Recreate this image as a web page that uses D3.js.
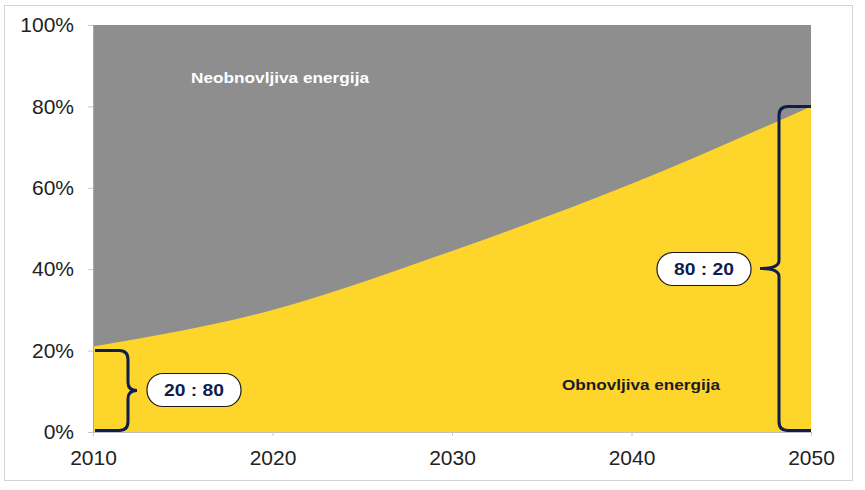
<!DOCTYPE html>
<html>
<head>
<meta charset="utf-8">
<script src="https://cdn.jsdelivr.net/npm/d3@7"></script>
<style>
  body { margin: 0; background: #fff; }
  svg { display: block; font-family: "Liberation Sans", Arial, sans-serif; }
</style>
</head>
<body>
<svg></svg>
<script>
// data
let years = [2010, 2020, 2030, 2040, 2050];
let renewable = [21, 30, 44.5, 61, 80]; // udio obnovljive energije, %
let yTicks = [0, 20, 40, 60, 80, 100];
let xTicks = [2010, 2020, 2030, 2040, 2050];
let ratioLabels = ["20 : 80", "80 : 20"];
let ratioShares = [20, 80]; // height of the braces, %
let areaLabels = ["Neobnovljiva energija", "Obnovljiva energija"];

let width = 865;
let height = 490;
let padLeft = 93, padRight = 811, padTop = 25, padBottom = 432;

let svg = d3.select("svg").attr("width", width).attr("height", height);

// outer frame
svg.append("rect")
  .attr("x", 4.5).attr("y", 5.5)
  .attr("width", 848).attr("height", 475)
  .attr("fill", "none")
  .attr("stroke", "#d4d4d4");

let xScale = d3.scaleLinear().domain([2010, 2050]).range([padLeft, padRight]);
let yScale = d3.scaleLinear().domain([0, 100]).range([padBottom, padTop]);

let points = years.map((y, i) => ({ year: y, value: renewable[i] }));

// gray = non-renewable, fills up to 100%
svg.append("path")
  .datum(points)
  .attr("fill", "#8e8e8e")
  .attr("d", d3.area()
    .x((d) => xScale(d.year))
    .y0(yScale(0))
    .y1(yScale(100)));

// yellow = renewable
svg.append("path")
  .datum(points)
  .attr("fill", "#fdd52b")
  .attr("d", d3.area()
    .curve(d3.curveMonotoneX)
    .x((d) => xScale(d.year))
    .y0(yScale(0))
    .y1((d) => yScale(d.value)));

// axes
let yAxis = d3.axisLeft(yScale).tickValues(yTicks).tickSize(5).tickPadding(14)
  .tickFormat((d) => d + "%");
let gy = svg.append("g").attr("transform", "translate(" + padLeft + ",0)").call(yAxis);
gy.select(".domain").attr("stroke", "#a8a8a8");
gy.selectAll(".tick line").attr("stroke", "#c8c8c8");
gy.selectAll("text").attr("font-size", 21).attr("fill", "#222")
  .attr("font-family", "'Liberation Sans', Arial, sans-serif");

let xAxis = d3.axisBottom(xScale).tickValues(xTicks).tickSize(4).tickPadding(14)
  .tickFormat(d3.format("d"));
let gx = svg.append("g").attr("transform", "translate(0," + padBottom + ")").call(xAxis);
gx.select(".domain").attr("stroke", "#c0c0c0");
gx.selectAll(".tick line").attr("stroke", "#c8c8c8");
gx.selectAll("text").attr("font-size", 21).attr("fill", "#222")
  .attr("font-family", "'Liberation Sans', Arial, sans-serif");

// area labels
svg.append("text")
  .attr("x", 280).attr("y", 83)
  .attr("text-anchor", "middle")
  .attr("font-size", 14).attr("font-weight", "bold")
  .attr("textLength", 178).attr("lengthAdjust", "spacingAndGlyphs")
  .attr("fill", "#fff")
  .text(areaLabels[0]);

svg.append("text")
  .attr("x", 641).attr("y", 390)
  .attr("text-anchor", "middle")
  .attr("font-size", 14).attr("font-weight", "bold")
  .attr("textLength", 158).attr("lengthAdjust", "spacingAndGlyphs")
  .attr("fill", "#1b1b2b")
  .text(areaLabels[1]);

// braces
function brace(xEdge, xv, xTip, yTop, yBot, dir) {
  // dir = 1 -> tip to the right, -1 -> tip to the left
  let r = 9, r2 = 8;
  let yMid = (yTop + yBot) / 2;
  let p = d3.path();
  p.moveTo(xEdge, yTop);
  p.lineTo(xv - dir * r, yTop);
  p.quadraticCurveTo(xv, yTop, xv, yTop + r);
  p.lineTo(xv, yMid - r2);
  p.quadraticCurveTo(xv, yMid, xTip, yMid);
  p.quadraticCurveTo(xv, yMid, xv, yMid + r2);
  p.lineTo(xv, yBot - r);
  p.quadraticCurveTo(xv, yBot, xv - dir * r, yBot);
  p.lineTo(xEdge, yBot);
  return p.toString();
}

let navy = "#0d1d50";

svg.append("path")
  .attr("d", brace(xScale(2010) + 2, 128, 137, yScale(ratioShares[0]), yScale(0) - 1.5, 1))
  .attr("fill", "none").attr("stroke", navy).attr("stroke-width", 3);

svg.append("path")
  .attr("d", brace(xScale(2050), 779, 760, yScale(ratioShares[1]), yScale(0) - 1.5, -1))
  .attr("fill", "none").attr("stroke", navy).attr("stroke-width", 3);

// ratio pills
let pills = [
  { cx: 194, cy: 390, text: ratioLabels[0] },
  { cx: 704, cy: 269, text: ratioLabels[1] }
];
pills.forEach((p) => {
  svg.append("rect")
    .attr("x", p.cx - 47).attr("y", p.cy - 16.5)
    .attr("width", 94).attr("height", 33)
    .attr("rx", 16).attr("ry", 16)
    .attr("fill", "#fff").attr("stroke", "#1a1a1a").attr("stroke-width", 1.2);
  svg.append("text")
    .attr("x", p.cx).attr("y", p.cy + 6)
    .attr("text-anchor", "middle")
    .attr("font-size", 17).attr("font-weight", "bold")
    .attr("textLength", 60).attr("lengthAdjust", "spacingAndGlyphs")
    .attr("fill", navy)
    .text(p.text);
});
</script>
</body>
</html>
